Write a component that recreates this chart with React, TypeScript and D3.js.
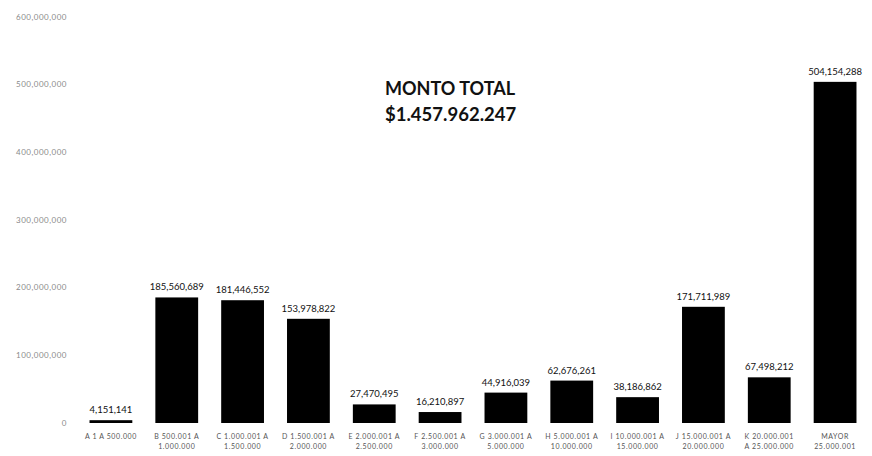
import React from "react";
import * as d3 from "d3";

const categoriesLine1 = [
  "A 1 A 500.000",
  "B 500.001 A",
  "C 1.000.001 A",
  "D 1.500.001 A",
  "E 2.000.001 A",
  "F 2.500.001 A",
  "G 3.000.001 A",
  "H 5.000.001 A",
  "I 10.000.001 A",
  "J 15.000.001 A",
  "K 20.000.001",
  "MAYOR",
];
const categoriesLine2 = [
  "",
  "1.000.000",
  "1.500.000",
  "2.000.000",
  "2.500.000",
  "3.000.000",
  "5.000.000",
  "10.000.000",
  "15.000.000",
  "20.000.000",
  "A 25.000.000",
  "25.000.001",
];
const values = [
  4151141, 185560689, 181446552, 153978822, 27470495, 16210897, 44916039,
  62676261, 38186862, 171711989, 67498212, 504154288,
];
const yTicks = [0, 100000000, 200000000, 300000000, 400000000, 500000000, 600000000];
const titleLines = ["MONTO TOTAL", "$1.457.962.247"];

const W = 872;
const H = 456;
const left = 78;
const right = 868;
const top = 17;
const bottom = 423;

export default function App() {
  const ids = values.map((_, i) => String(i));
  const x = d3.scaleBand<string>().domain(ids).range([left, right]).paddingInner(0.35).paddingOuter(0.175);
  const y = d3.scaleLinear().domain([0, 600000000]).range([bottom, top]);
  const fmt = (v: number) => d3.format(",")(v);
  const font = "Lato, 'Open Sans', sans-serif";

  return (
    <svg width={W} height={H} style={{ position: "absolute", left: 0, top: 0, background: "#fff" }}>
      <rect x={0} y={0} width={W} height={H} fill="#fff" />
      {yTicks.map((t) => (
        <text
          key={t}
          x={67}
          y={y(t)}
          dy="0.35em"
          textAnchor="end"
          fontSize={8}
          letterSpacing={0.5}
          fill="#8a8a8a"
          fontFamily={font}
        >
          {fmt(t)}
        </text>
      ))}
      {values.map((v, i) => {
        const bx = x(String(i))!;
        const bw = x.bandwidth();
        const cx = bx + bw / 2;
        return (
          <g key={i}>
            <rect x={bx} y={y(v)} width={bw} height={bottom - y(v)} fill="#000" />
            <text
              x={cx}
              y={y(v) - 7}
              textAnchor="middle"
              fontSize={9.5}
              fill="#111"
              fontFamily={font}
            >
              {fmt(v)}
            </text>
            <text x={cx} y={439} textAnchor="middle" fontSize={7} letterSpacing={0.6} fill="#555" fontFamily={font}>
              {categoriesLine1[i]}
            </text>
            <text x={cx} y={449} textAnchor="middle" fontSize={7} letterSpacing={0.6} fill="#555" fontFamily={font}>
              {categoriesLine2[i]}
            </text>
          </g>
        );
      })}
      <text x={385} y={95} fontSize={18} fontWeight="bold" fill="#111" fontFamily={font}>
        {titleLines[0]}
      </text>
      <text x={385} y={121} fontSize={18.5} fontWeight="bold" fill="#111" fontFamily={font}>
        {titleLines[1]}
      </text>
    </svg>
  );
}
